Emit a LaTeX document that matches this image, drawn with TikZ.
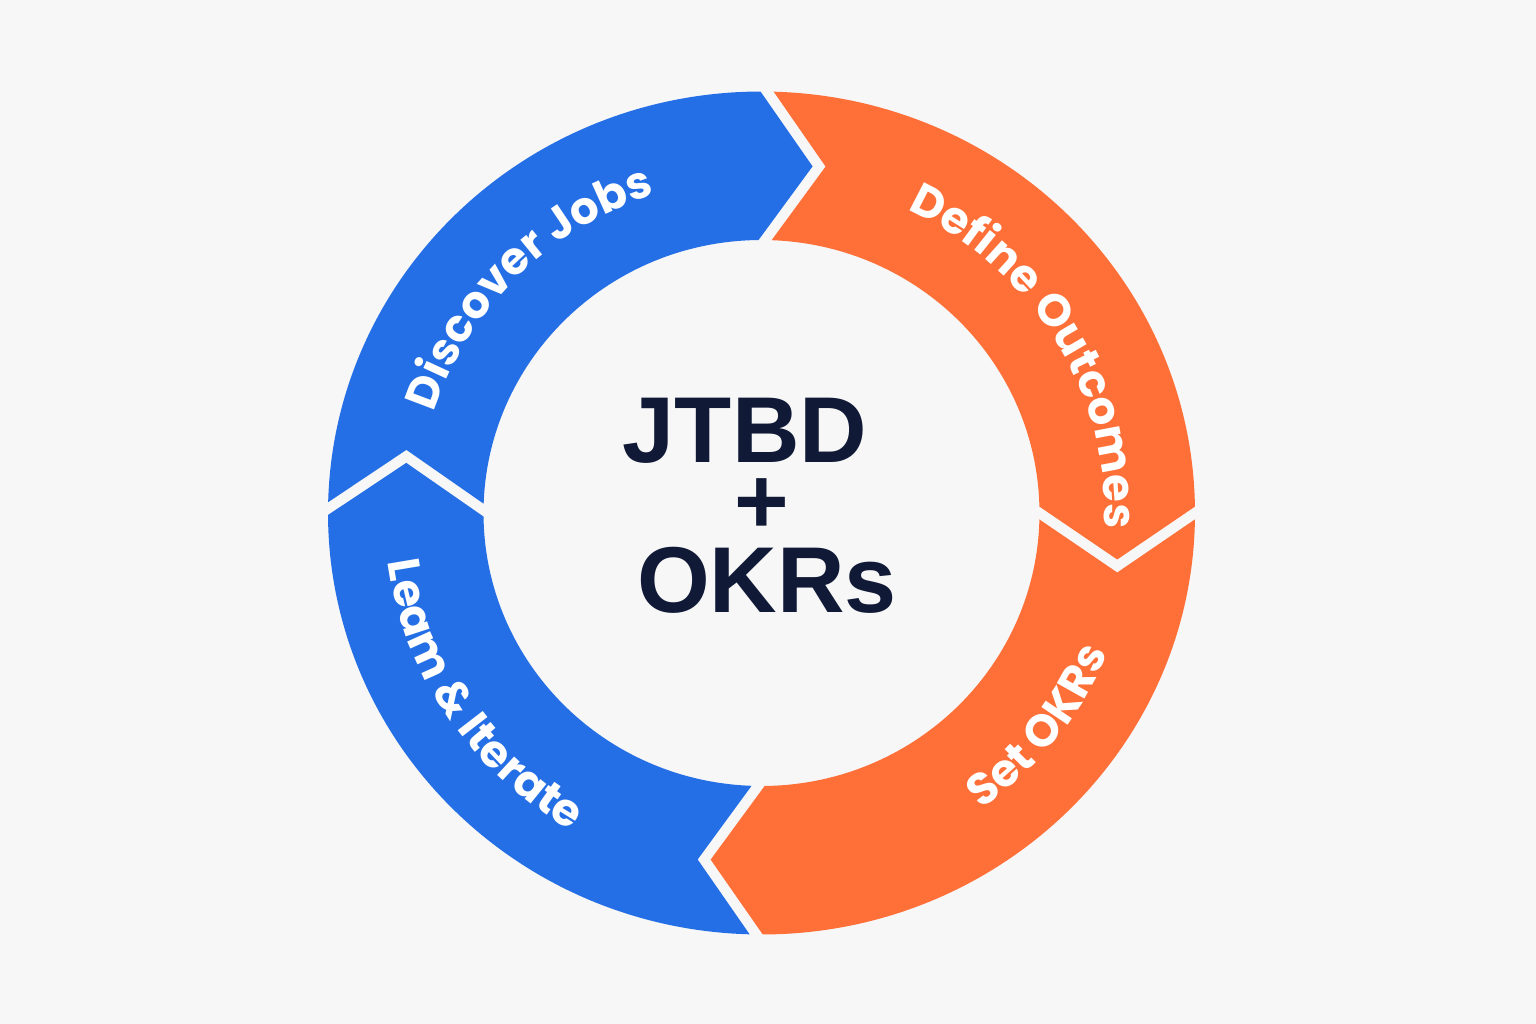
\documentclass[tikz,border=0pt]{standalone}
\usepackage{fontspec}
\usetikzlibrary{decorations.text}
\newfontfamily\labelfont{Poppins}
\newfontfamily\centerfont{Liberation Sans}
\definecolor{bgc}{HTML}{F7F7F7}
\definecolor{jblue}{HTML}{256FE6}
\definecolor{jorange}{HTML}{FF6F38}
\definecolor{navy}{HTML}{101936}
% ring geometry (px units)
\def\RgOx{433.5}\def\RgOy{421.5}
\def\RgIx{278}\def\RgIy{273}
\def\RgMx{355.75}\def\RgMy{347.25}
\def\RgdO{0.87}\def\RgdI{1.35}
\def\RgTip{46.5}\def\RgNotch{59.5}
\newcommand{\ringseg}[3]{%
  \pgfmathsetmacro{\segS}{#2}\pgfmathsetmacro{\segE}{#3}%
  \pgfmathsetmacro{\segSo}{\segS-\RgdO}\pgfmathsetmacro{\segSi}{\segS-\RgdI}%
  \pgfmathsetmacro{\segEo}{\segE+\RgdO}\pgfmathsetmacro{\segEi}{\segE+\RgdI}%
  \fill[#1] ({\RgOx*cos(\segSo)},{\RgOy*sin(\segSo)})
    -- ({\RgMx*cos(\segS)+\RgNotch*sin(\segS)},{\RgMy*sin(\segS)-\RgNotch*cos(\segS)})
    -- ({\RgIx*cos(\segSi)},{\RgIy*sin(\segSi)})
    arc[start angle=\segSi, end angle=\segEi, x radius=\RgIx, y radius=\RgIy]
    -- ({\RgMx*cos(\segE)+\RgTip*sin(\segE)},{\RgMy*sin(\segE)-\RgTip*cos(\segE)})
    -- ({\RgOx*cos(\segEo)},{\RgOy*sin(\segEo)})
    arc[start angle=\segEo, end angle=\segSo, x radius=\RgOx, y radius=\RgOy]
    -- cycle;}
\begin{document}
\begin{tikzpicture}[x=0.01cm,y=0.01cm,
  lbl/.style={decorate, decoration={text along path, text align=center, text color=white, text={#1}}},
  ctr/.style={font=\centerfont\bfseries\fontsize{26.6}{30}\selectfont, text=navy, inner sep=0pt, anchor=base}]
\fill[bgc] (-761.5,-511) rectangle (774.5,513);
\useasboundingbox (-761.5,-511) rectangle (774.5,513);
% ring segments
\ringseg{jblue}{179.4}{89.26}
\ringseg{jorange}{89.26}{0}
\ringseg{jorange}{360}{269.3}
\ringseg{jblue}{269.3}{179.4}
% curved labels
\path[lbl={|\labelfont\bfseries\fontsize{12.8}{15}\selectfont|Discover Jobs}]
  ({343*cos(180)},{335*sin(180)}) arc[start angle=180, end angle=91, x radius=343, y radius=335];
\path[lbl={|\labelfont\bfseries\fontsize{12.8}{15}\selectfont|Define Outcomes}]
  ({343*cos(75)},{335*sin(75)}) arc[start angle=75, end angle=-13, x radius=343, y radius=335];
\path[lbl={|\labelfont\bfseries\fontsize{12.8}{15}\selectfont|Leam {\&} Iterate}]
  ({377*cos(169.5)},{368*sin(169.5)}) arc[start angle=169.5, end angle=257.5, x radius=377, y radius=368];
\path[lbl={|\labelfont\bfseries\fontsize{12.8}{15}\selectfont|Set OKRs}]
  ({375*cos(-82)},{366*sin(-82)}) arc[start angle=-82, end angle=6, x radius=375, y radius=366];
% centre text
\node[ctr] (jtbd) at (-16.5,51) {JTBD};
\node[ctr, anchor=center] (plus) at (0,7) {+};
\node[ctr] (okrs) at (5.5,-100) {OKRs};
\end{tikzpicture}
\end{document}
